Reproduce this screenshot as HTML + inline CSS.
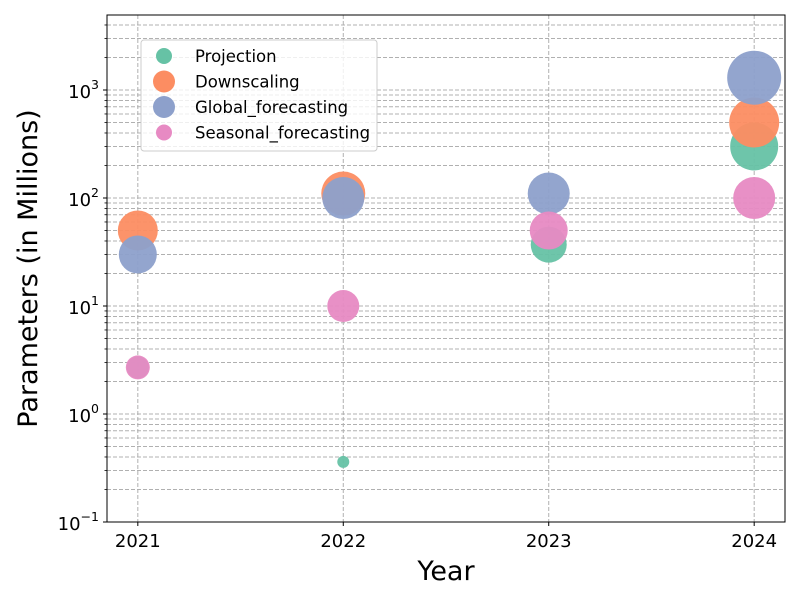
<!DOCTYPE html>
<html><head><meta charset="utf-8"><style>
body{margin:0;background:#fff;font-family:"Liberation Sans","DejaVu Sans",sans-serif}
</style></head><body>
<svg id="chart" width="800" height="600" xmlns="http://www.w3.org/2000/svg" font-family="DejaVu Sans, Liberation Sans, sans-serif">
<rect width="800" height="600" fill="#fff"/>
<g id="grid"></g><g id="marks"></g><g id="axes"></g><g id="legend"></g>
</svg>
<script>
const years=[2021,2022,2023,2024];
const seriesNames=["Projection","Downscaling","Global_forecasting","Seasonal_forecasting"];
const colors=["#66c2a5","#fc8d62","#8da0cb","#e78ac3"];
const projYears=[2021,2022,2023,2024];
const projValues=[2.7,0.36,37,300];
const projRadii=[11,6,18,24];
const downYears=[2021,2022,2024];
const downValues=[50,110,500];
const downRadii=[20,22,25];
const globYears=[2021,2022,2023,2024];
const globValues=[30,100,110,1300];
const globRadii=[19,21,21,27];
const seasYears=[2021,2022,2023,2024];
const seasValues=[2.7,10,50,100];
const seasRadii=[12,16,19,21];
const yTickExps=[-1,0,1,2,3];

const NS="http://www.w3.org/2000/svg";
const L=107,R=785,T=15,B=522;
const xMin=2020.85,xMax=2024.15,yMinE=-1,yMaxE=3.6945;
const xs=v=>L+(v-xMin)/(xMax-xMin)*(R-L);
const ys=v=>B-(Math.log10(v)-yMinE)/(yMaxE-yMinE)*(B-T);
function mk(tag,attrs,parent){const e=document.createElementNS(NS,tag);for(const k in attrs)e.setAttribute(k,attrs[k]);parent.appendChild(e);return e;}
const grid=document.getElementById('grid'),marks=document.getElementById('marks'),axes=document.getElementById('axes'),legend=document.getElementById('legend');
for(let e=-1;e<=3;e++){for(let m=1;m<=9;m++){const v=m*Math.pow(10,e);const y=ys(v);if(y<T)continue;
const g=mk('line',{x1:L,x2:R,y1:y,y2:y,stroke:'#b0b0b0','stroke-width':1,'stroke-dasharray':'4,2'},grid);

if(m>1){const t=mk('line',{x1:L-2.5,x2:L,y1:y,y2:y,stroke:'#000','stroke-width':0.8},axes);}}}
years.forEach(yr=>{const x=xs(yr);
const g=mk('line',{x1:x,x2:x,y1:T,y2:B,stroke:'#b0b0b0','stroke-width':1,'stroke-dasharray':'4,2'},grid);

const t=mk('line',{x1:x,x2:x,y1:B,y2:B+4,stroke:'#000','stroke-width':1},axes);
const lb=mk('text',{x:x,y:B+25,'text-anchor':'middle','font-size':18},axes);lb.textContent=yr;});
yTickExps.forEach(e=>{const y=ys(Math.pow(10,e));
const t=mk('line',{x1:L-4,x2:L,y1:y,y2:y,stroke:'#000','stroke-width':1},axes);
const lb=mk('text',{x:L-8,y:y+8,'text-anchor':'end','font-size':18},axes);
const ts=mk('tspan',{},lb);ts.textContent='10';const sp=mk('tspan',{dy:-9,'font-size':12.5},lb);sp.textContent=String(e).replace('-','−');});
const fr=mk('rect',{x:L,y:T,width:R-L,height:B-T,fill:'none',stroke:'#000','stroke-width':1},axes);
const xl=mk('text',{x:(L+R)/2,y:580,'text-anchor':'middle','font-size':27},axes);xl.textContent='Year';
const yl=mk('text',{x:0,y:0,'text-anchor':'middle','font-size':27,transform:`translate(37,${(T+B)/2}) rotate(-90)`},axes);yl.textContent='Parameters (in Millions)';
const sets=[[projYears,projValues,projRadii],[downYears,downValues,downRadii],[globYears,globValues,globRadii],[seasYears,seasValues,seasRadii]];
sets.forEach((s,i)=>{s[0].forEach((yr,j)=>{const c=mk('circle',{cx:xs(yr),cy:ys(s[1][j]),r:s[2][j],fill:colors[i],'fill-opacity':0.95},marks);

});});
const lr=mk('rect',{x:141,y:40,width:236,height:111,rx:3,fill:'#fff','fill-opacity':0.8,stroke:'#ccc'},legend);
const lrad=[8,11,11,8];
seriesNames.forEach((n,i)=>{const y=56+i*25.5;
const c=mk('circle',{cx:164,cy:y,r:lrad[i],fill:colors[i]},legend);
const t=mk('text',{x:195,y:y+6,'font-size':16.5},legend);t.textContent=n;});
</script>
</body></html>
